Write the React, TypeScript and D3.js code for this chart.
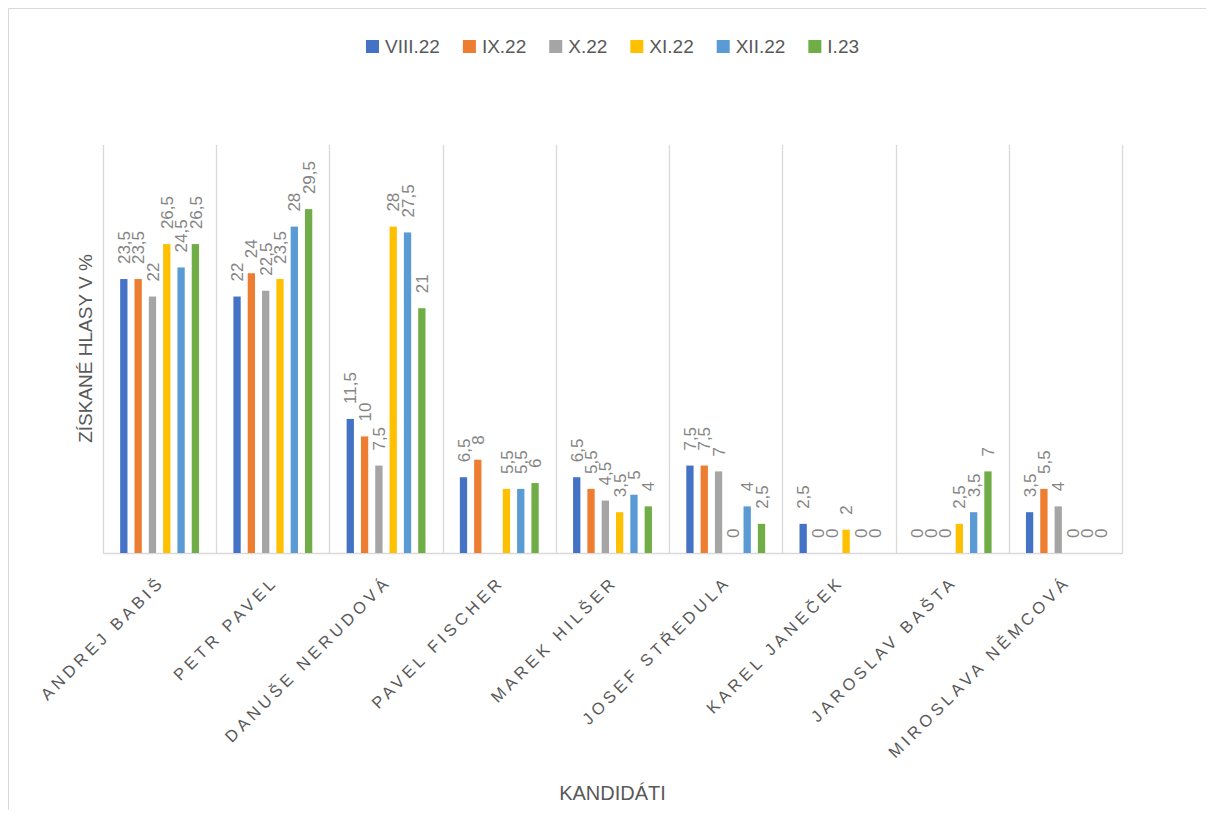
import React, { useMemo } from 'react';
import * as d3 from 'd3';

const candidates = [
  'ANDREJ BABIŠ',
  'PETR PAVEL',
  'DANUŠE NERUDOVÁ',
  'PAVEL FISCHER',
  'MAREK HILŠER',
  'JOSEF STŘEDULA',
  'KAREL JANEČEK',
  'JAROSLAV BAŠTA',
  'MIROSLAVA NĚMCOVÁ',
];
const seriesNames = ['VIII.22', 'IX.22', 'X.22', 'XI.22', 'XII.22', 'I.23'];
const viii22: (number | null)[] = [23.5, 22, 11.5, 6.5, 6.5, 7.5, 2.5, 0, 3.5];
const ix22: (number | null)[] = [23.5, 24, 10, 8, 5.5, 7.5, 0, 0, 5.5];
const x22: (number | null)[] = [22, 22.5, 7.5, null, 4.5, 7, 0, 0, 4];
const xi22: (number | null)[] = [26.5, 23.5, 28, 5.5, 3.5, 0, 2, 2.5, 0];
const xii22: (number | null)[] = [24.5, 28, 27.5, 5.5, 5, 4, 0, 3.5, 0];
const i23: (number | null)[] = [26.5, 29.5, 21, 6, 4, 2.5, 0, 7, 0];
const seriesValues = [viii22, ix22, x22, xi22, xii22, i23];
const seriesColors = ['#4472C4', '#ED7D31', '#A5A5A5', '#FFC000', '#5B9BD5', '#70AD47'];
const yTitle = 'ZÍSKANÉ HLASY V %';
const xTitle = 'KANDIDÁTI';

const W = 1206;
const H = 802;
const FONT = "'Liberation Sans', Arial, sans-serif";
const plot = { left: 95, right: 1114, top: 137, bottom: 545 };

function fmt(v: number) {
  return String(v).replace('.', ',');
}

export default function App() {
  const x0 = d3.scaleBand<string>().domain(candidates).range([plot.left, plot.right]).padding(0);
  const x1 = d3
    .scaleBand<string>()
    .domain(seriesNames)
    .range([0, x0.bandwidth()])
    .paddingInner(0.49)
    .paddingOuter(1.2);
  const y = d3.scaleLinear().domain([0, 35]).range([plot.bottom, plot.top]);

  const legendFont = 19;
  const legend = useMemo(() => {
    const canvas = document.createElement('canvas');
    const ctx = canvas.getContext('2d')!;
    ctx.font = `${legendFont}px ${FONT}`;
    const sq = 13, gapText = 6, gapItem = 23;
    const widths = seriesNames.map((s) => ctx.measureText(s).width);
    const total = widths.reduce((a, b) => a + b, 0) + seriesNames.length * (sq + gapText) + (seriesNames.length - 1) * gapItem;
    let cx = (plot.left + plot.right) / 2 - total / 2;
    return seriesNames.map((s, i) => {
      const item = { name: s, x: cx, textX: cx + sq + gapText, color: seriesColors[i] };
      cx += sq + gapText + widths[i] + gapItem;
      return item;
    });
  }, []);

  const gridXs = [...candidates.map((c) => x0(c)!), plot.right];

  return (
    <svg width={W} height={H} style={{ display: 'block' }} fontFamily={FONT}>
      <rect x={0} y={0} width={W} height={H} fill="#ffffff" />
      <line x1={0.5} y1={0.5} x2={W} y2={0.5} stroke="#d9d9d9" strokeWidth={1} />
      <line x1={0.5} y1={0.5} x2={0.5} y2={H} stroke="#d9d9d9" strokeWidth={1} />

      {legend.map((l) => (
        <g key={l.name}>
          <rect x={l.x} y={32} width={13} height={13} fill={l.color} />
          <text x={l.textX} y={45} fontSize={legendFont} fill="#595959">
            {l.name}
          </text>
        </g>
      ))}

      {gridXs.map((gx, i) => (
        <line key={i} x1={Math.round(gx) + 0.5} x2={Math.round(gx) + 0.5} y1={plot.top} y2={plot.bottom} stroke="#d9d9d9" strokeWidth={1.3} />
      ))}
      <line x1={plot.left} x2={plot.right + 1} y1={plot.bottom + 0.5} y2={plot.bottom + 0.5} stroke="#d9d9d9" strokeWidth={1.5} />

      {candidates.map((c, ci) => (
        <g key={c} transform={`translate(${x0(c)},0)`}>
          {seriesNames.map((s, si) => {
            const v = seriesValues[si][ci];
            if (v === null || v === undefined) return null;
            const bx = x1(s)!;
            const top = y(v);
            const cxm = bx + x1.bandwidth() / 2;
            return (
              <g key={s}>
                {v > 0 && (
                  <rect x={bx} y={top} width={x1.bandwidth()} height={plot.bottom - top} fill={seriesColors[si]} />
                )}
                <text
                  transform={`translate(${cxm},${top - 15}) rotate(-90)`}
                  dy="0.36em"
                  fontSize={17}
                  fill="#858585"
                >
                  {fmt(v)}
                </text>
              </g>
            );
          })}
        </g>
      ))}

      {candidates.map((c) => {
        const cx = x0(c)! + x0.bandwidth() / 2;
        return (
          <text
            key={c}
            transform={`translate(${cx + 6},${575}) rotate(-45)`}
            textAnchor="end"
            fontSize={16.5}
            letterSpacing={4}
            fill="#595959"
          >
            {c}
          </text>
        );
      })}

      <text x={(plot.left + plot.right) / 2} y={792} textAnchor="middle" fontSize={20} fill="#595959">
        {xTitle}
      </text>
      <text transform={`translate(83.5,340.5) rotate(-90)`} textAnchor="middle" fontSize={19} fill="#595959">
        {yTitle}
      </text>
    </svg>
  );
}
